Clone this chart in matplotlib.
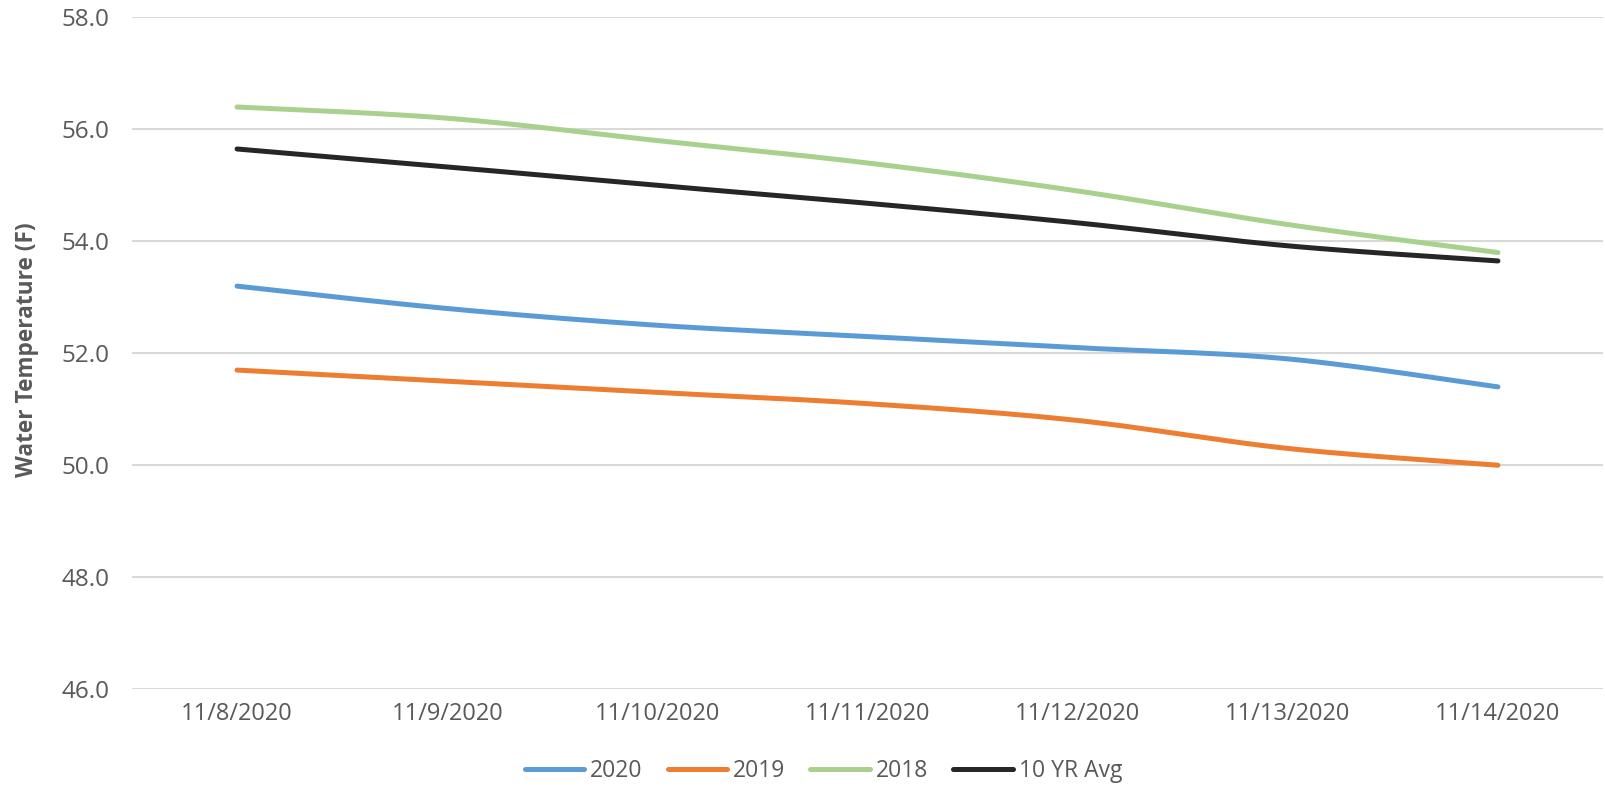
import numpy as np
import matplotlib
matplotlib.use("Agg")
import matplotlib.pyplot as plt

# Data
dates = ["11/8/2020", "11/9/2020", "11/10/2020", "11/11/2020",
         "11/12/2020", "11/13/2020", "11/14/2020"]
y2020 = [53.2, 52.8, 52.5, 52.3, 52.1, 51.9, 51.4]
y2019 = [51.7, 51.5, 51.3, 51.1, 50.8, 50.3, 50.0]
y2018 = [56.4, 56.2, 55.8, 55.4, 54.9, 54.3, 53.8]
avg10 = [55.65, 55.33, 55.0, 54.68, 54.33, 53.92, 53.65]


def smooth(xs, ys, n=30):
    # Excel-style smoothed line (Bezier through points, Catmull-Rom tangents)
    xs = np.asarray(xs, float)
    ys = np.asarray(ys, float)
    px, py = [], []
    for i in range(len(xs) - 1):
        i0 = max(i - 1, 0)
        i3 = min(i + 2, len(xs) - 1)
        p0 = np.array([xs[i], ys[i]])
        p3 = np.array([xs[i + 1], ys[i + 1]])
        c1 = p0 + (np.array([xs[i + 1], ys[i + 1]]) - np.array([xs[i0], ys[i0]])) / 6
        c2 = p3 - (np.array([xs[i3], ys[i3]]) - np.array([xs[i], ys[i]])) / 6
        t = np.linspace(0, 1, n)[:, None]
        pts = ((1 - t) ** 3) * p0 + 3 * ((1 - t) ** 2) * t * c1 + 3 * (1 - t) * t ** 2 * c2 + t ** 3 * p3
        px.extend(pts[:, 0])
        py.extend(pts[:, 1])
    return px, py


plt.rcParams['font.family'] = ['Open Sans', 'DejaVu Sans']

fig = plt.figure(figsize=(16.06, 7.93), dpi=100)
ax = fig.add_axes([132 / 1606, 0.131, 1471 / 1606, 0.847])

x = np.arange(len(dates))
series = [(y2020, "2020", "#5B9BD5"), (y2019, "2019", "#ED7D31"),
          (y2018, "2018", "#A9D18E"), (avg10, "10 YR Avg", "#262626")]
for ys, name, col in series:
    sx, sy = smooth(x, ys)
    ax.plot(sx, sy, color=col, lw=3.6, label=name, solid_capstyle="round")

ax.set_xlim(-0.5, 6.5)
ax.set_ylim(46, 58)
ax.set_yticks(np.arange(46, 58.1, 2))
ax.set_yticklabels([f"{v:.1f}" for v in np.arange(46, 58.1, 2)])
ax.set_xticks(x)
ax.set_xticklabels(dates)
ax.grid(axis="y", color="#D9D9D9", lw=1.5)
ax.set_axisbelow(True)
for s in ax.spines.values():
    s.set_visible(False)
ax.tick_params(length=0, labelsize=17, colors="#595959")
ax.tick_params(axis="x", pad=9)
ax.tick_params(axis="y", pad=16, labelsize=17.5)
fig.text(27 / 1606, 1 - 350 / 793, "Water Temperature (F)", rotation=90, ha="center", va="center",
         fontsize=16.3, fontweight="bold", color="#595959")

leg = ax.legend(loc="center", bbox_to_anchor=(0.47, (689 - 771) / (0.847 * 793)), ncol=4, frameon=False,
                fontsize=16.5, handlelength=2.6, columnspacing=1.1, handletextpad=0.25)
for t in leg.get_texts():
    t.set_color("#595959")

fig.savefig("out.png", dpi=100)
